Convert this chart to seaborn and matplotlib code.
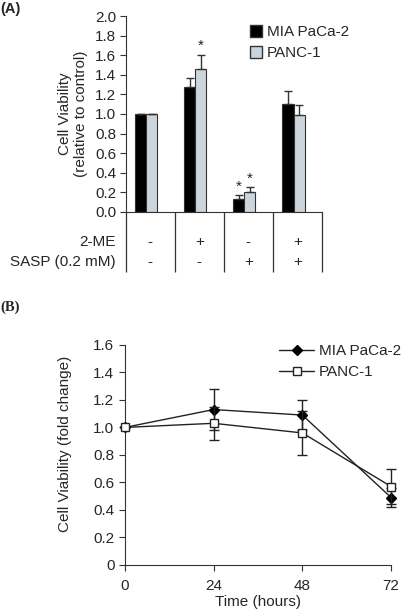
import numpy as np
import pandas as pd
import matplotlib
matplotlib.use("Agg")
import matplotlib.pyplot as plt
import seaborn as sns
from matplotlib.patches import Patch
from matplotlib.lines import Line2D

# ---------------- data ----------------
lines = ["MIA PaCa-2", "PANC-1"]
groups = ["g1", "g2", "g3", "g4"]
me_row = ["-", "+", "-", "+"]
sasp_row = ["-", "-", "+", "+"]
mia_vals = [1.00, 1.28, 0.13, 1.10]
mia_err = [0.00, 0.09, 0.04, 0.13]
panc_vals = [1.00, 1.46, 0.20, 0.99]
panc_err = [0.00, 0.14, 0.05, 0.10]
mia_star = [False, False, True, False]
panc_star = [False, True, True, False]

hours = [0, 24, 48, 72]
mia_time = [1.00, 1.13, 1.09, 0.49]
mia_time_err = [0.00, 0.15, 0.11, 0.07]
panc_time = [1.00, 1.03, 0.96, 0.57]
panc_time_err = [0.00, 0.12, 0.16, 0.13]

# ---------------- style ----------------
sns.set_style("ticks")
plt.rcParams["font.family"] = ["Liberation Sans", "DejaVu Sans"]
FS = 11

fig = plt.figure(figsize=(4.04, 6.16), dpi=100)

# ---------------- Panel A ----------------
axA = fig.add_axes([0.312, 0.656, 0.485, 0.318])
dfA = pd.DataFrame({
    "group": groups * 2,
    "line": [lines[0]] * 4 + [lines[1]] * 4,
    "value": mia_vals + panc_vals,
})
sns.barplot(data=dfA, x="group", y="value", hue="line", hue_order=lines,
            order=groups, palette=["#000000", "#c9d5de"], width=0.45,
            edgecolor="#333333", linewidth=0.8, errorbar=None, ax=axA,
            legend=False)

errs = [mia_err, panc_err]
stars = [mia_star, panc_star]
vals = [mia_vals, panc_vals]
bar_conts = list(axA.containers)[:2]
for ci, cont in enumerate(bar_conts):
    xs = [b.get_x() + b.get_width() / 2 for b in cont]
    e = np.array(errs[ci])
    v = np.array(vals[ci])
    axA.errorbar(xs, v, yerr=[np.zeros_like(e), e], fmt="none",
                 ecolor="#333333", elinewidth=1.0, capsize=3, capthick=1.0)
    for x, vv, ee, s in zip(xs, v, e, stars[ci]):
        if s:
            axA.text(x, vv + ee + 0.02, "*", ha="center", va="bottom",
                     fontsize=FS, color="#222222")

axA.set_xlim(-0.41, 3.58)
axA.set_ylim(0, 2.0)
axA.set_yticks(np.arange(0, 2.01, 0.2))
axA.set_yticklabels([f"{t:.1f}" for t in np.arange(0, 2.01, 0.2)], fontsize=FS)
axA.set_xticks([])
axA.set_xlabel("")
axA.set_ylabel("Cell Viability\n(relative to control)", fontsize=FS, labelpad=5)
sns.despine(ax=axA)
for sp in ["left", "bottom"]:
    axA.spines[sp].set_color("#333333")
axA.tick_params(axis="y", length=4.5, color="#333333", pad=2.5)

# table below
seps = [-0.41, 0.58, 1.58, 2.58, 3.58]
axA.vlines(seps, -0.61, 0, color="#333333", lw=0.9, clip_on=False)
for i in range(4):
    axA.text(i + 0.08, -0.31, me_row[i], ha="center", va="center", fontsize=FS)
    axA.text(i + 0.08, -0.51, sasp_row[i], ha="center", va="center", fontsize=FS)
axA.text(-0.62, -0.31, "2-ME", ha="right", va="center", fontsize=FS)
axA.text(-0.62, -0.51, "SASP (0.2 mM)", ha="right", va="center", fontsize=FS)

hA = [Patch(facecolor="#000000", edgecolor="#333333", label=lines[0]),
      Patch(facecolor="#c9d5de", edgecolor="#333333", label=lines[1])]
axA.legend(handles=hA, loc="upper right", bbox_to_anchor=(1.17, 0.985),
           frameon=False, fontsize=FS, handlelength=0.8, handleheight=0.8,
           handletextpad=0.3, labelspacing=0.45, borderaxespad=0)

fig.text(0.0, 0.986, "(A)", fontsize=10.5, fontweight="bold", va="center",
         ha="left")

# ---------------- Panel B ----------------
axB = fig.add_axes([0.309, 0.083, 0.659, 0.357])
dfB = pd.DataFrame({
    "hours": hours * 2,
    "value": mia_time + panc_time,
    "line": [lines[0]] * 4 + [lines[1]] * 4,
})
sns.lineplot(data=dfB, x="hours", y="value", hue="line", hue_order=lines,
             palette=["#222222", "#222222"], linewidth=1.0, legend=False,
             ax=axB, clip_on=False)
axB.errorbar(hours, mia_time, yerr=mia_time_err, fmt="D", color="#222222",
             markersize=5, mfc="#000000", mec="#000000", elinewidth=1.0,
             capsize=3.5, capthick=1.0, clip_on=False, zorder=5)
axB.errorbar(hours, panc_time, yerr=panc_time_err, fmt="s", color="#222222",
             markersize=5.5, mfc="white", mec="#222222", mew=1.0,
             elinewidth=1.0, capsize=3.5, capthick=1.0, clip_on=False, zorder=6)

axB.set_xlim(0, 72)
axB.set_ylim(0, 1.6)
axB.set_xticks(hours)
axB.set_xticklabels([str(h) for h in hours], fontsize=FS)
yt = np.arange(0, 1.61, 0.2)
axB.set_yticks(yt)
axB.set_yticklabels(["0"] + [f"{t:.1f}" for t in yt[1:]], fontsize=FS)
axB.set_xlabel("Time (hours)", fontsize=FS, labelpad=1)
axB.set_ylabel("Cell Viability (fold change)", fontsize=FS, labelpad=6)
axB.yaxis.set_label_coords(-0.2, 0.55)
sns.despine(ax=axB)
for sp in ["left", "bottom"]:
    axB.spines[sp].set_color("#333333")
axB.tick_params(length=4.5, color="#333333", pad=3)
axB.tick_params(axis="x", pad=6)

hB = [Line2D([0], [0], color="#222222", lw=1.0, marker="D", markersize=5,
             mfc="#000000", mec="#000000", label=lines[0]),
      Line2D([0], [0], color="#222222", lw=1.0, marker="s", markersize=5.5,
             mfc="white", mec="#222222", label=lines[1])]
axB.legend(handles=hB, loc="upper right", bbox_to_anchor=(1.06, 1.03),
           frameon=False, fontsize=FS, handlelength=2.3, handletextpad=0.3,
           labelspacing=0.45, borderaxespad=0)

fig.text(0.0, 0.502, "(B)", fontsize=10.5, fontweight="bold", va="center",
         ha="left", family=["Liberation Serif", "DejaVu Serif"])

fig.savefig("out.png", dpi=100)
